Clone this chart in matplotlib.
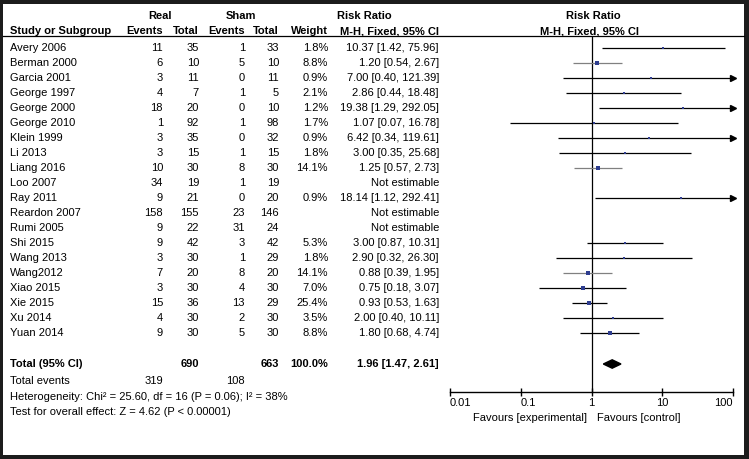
import numpy as np
import matplotlib
matplotlib.use('Agg')
import matplotlib.pyplot as plt
from matplotlib.patches import Rectangle, Polygon

plt.rcParams['font.family'] = ['Liberation Sans', 'DejaVu Sans']
FS = 8

# --- data ---
studies = ['Avery 2006', 'Berman 2000', 'Garcia 2001', 'George 1997', 'George 2000',
           'George 2010', 'Klein 1999', 'Li 2013', 'Liang 2016', 'Loo 2007', 'Ray 2011',
           'Reardon 2007', 'Rumi 2005', 'Shi 2015', 'Wang 2013', 'Wang2012', 'Xiao 2015',
           'Xie 2015', 'Xu 2014', 'Yuan 2014']
real_events = [11, 6, 3, 4, 18, 1, 3, 3, 10, 34, 9, 158, 9, 9, 3, 7, 3, 15, 4, 9]
real_total = [35, 10, 11, 7, 20, 92, 35, 15, 30, 19, 21, 155, 22, 42, 30, 20, 30, 36, 30, 30]
sham_events = [1, 5, 0, 1, 0, 1, 0, 1, 8, 1, 0, 23, 31, 3, 1, 8, 4, 13, 2, 5]
sham_total = [33, 10, 11, 5, 10, 98, 32, 15, 30, 19, 20, 146, 24, 42, 29, 20, 30, 29, 30, 30]
weights = [1.8, 8.8, 0.9, 2.1, 1.2, 1.7, 0.9, 1.8, 14.1, None, 0.9, None, None,
           5.3, 1.8, 14.1, 7.0, 25.4, 3.5, 8.8]
rr = [10.37, 1.20, 7.00, 2.86, 19.38, 1.07, 6.42, 3.00, 1.25, None, 18.14, None, None,
      3.00, 2.90, 0.88, 0.75, 0.93, 2.00, 1.80]
ci_lo = [1.42, 0.54, 0.40, 0.44, 1.29, 0.07, 0.34, 0.35, 0.57, None, 1.12, None, None,
         0.87, 0.32, 0.39, 0.18, 0.53, 0.40, 0.68]
ci_hi = [75.96, 2.67, 121.39, 18.48, 292.05, 16.78, 119.61, 25.68, 2.73, None, 292.41, None, None,
         10.31, 26.30, 1.95, 3.07, 1.63, 10.11, 4.74]
grey_rows = ['Berman 2000', 'Liang 2016', 'Wang2012']

total_rr, total_lo, total_hi = 1.96, 1.47, 2.61
total_n_real, total_n_sham = 690, 663
total_ev_real, total_ev_sham = 319, 108
het_text = 'Heterogeneity: Chi² = 25.60, df = 16 (P = 0.06); I² = 38%'
test_text = 'Test for overall effect: Z = 4.62 (P < 0.00001)'
ticks = [0.01, 0.1, 1, 10, 100]
tick_labels = ['0.01', '0.1', '1', '10', '100']

# --- figure: rows are 15 px apart, first row at 48 px ---
W, H = 749, 459
fig = plt.figure(figsize=(W / 100, H / 100), dpi=100)
fig.patch.set_facecolor('#1c1c1c')
fig.patches.append(Rectangle((3 / W, 4 / H), 741 / W, 451 / H, transform=fig.transFigure,
                             facecolor='white', edgecolor='none', zorder=-5))

def row_of(pix):
    return (pix - 48) / 15.0

tab = fig.add_axes([0, 0, 1, 1])
tab.set_xlim(0, W)
tab.set_ylim(row_of(H), row_of(0))
tab.axis('off')
tab.patch.set_alpha(0)

# header
r1, r2 = row_of(16), row_of(31)
tab.text(160, r1, 'Real', ha='center', va='center', fontsize=FS, weight='bold')
tab.text(241, r1, 'Sham', ha='center', va='center', fontsize=FS, weight='bold')
tab.text(337, r1, 'Risk Ratio', ha='left', va='center', fontsize=FS, weight='bold')
tab.text(593, r1, 'Risk Ratio', ha='center', va='center', fontsize=FS, weight='bold')
tab.text(10, r2, 'Study or Subgroup', ha='left', va='center', fontsize=FS, weight='bold')
for x, s in [(163, 'Events'), (199, 'Total'), (245, 'Events'), (279, 'Total'), (328, 'Weight'),
             (439, 'M-H, Fixed, 95% CI')]:
    tab.text(x, r2, s, ha='right', va='center', fontsize=FS, weight='bold')
tab.text(589, r2, 'M-H, Fixed, 95% CI', ha='center', va='center', fontsize=FS, weight='bold')
tab.plot([3, 744], [row_of(36), row_of(36)], color='black', lw=0.9)

# study rows
for i, name in enumerate(studies):
    tab.text(10, i, name, ha='left', va='center', fontsize=FS)
    tab.text(163, i, str(real_events[i]), ha='right', va='center', fontsize=FS)
    tab.text(199, i, str(real_total[i]), ha='right', va='center', fontsize=FS)
    tab.text(245, i, str(sham_events[i]), ha='right', va='center', fontsize=FS)
    tab.text(279, i, str(sham_total[i]), ha='right', va='center', fontsize=FS)
    if weights[i] is None:
        tab.text(439, i, 'Not estimable', ha='right', va='center', fontsize=FS)
    else:
        tab.text(328, i, f'{weights[i]:.1f}%', ha='right', va='center', fontsize=FS)
        tab.text(439, i, f'{rr[i]:.2f} [{ci_lo[i]:.2f}, {ci_hi[i]:.2f}]',
                 ha='right', va='center', fontsize=FS)

# totals
rt = row_of(364)
tab.text(10, rt, 'Total (95% CI)', ha='left', va='center', fontsize=FS, weight='bold')
tab.text(199, rt, str(total_n_real), ha='right', va='center', fontsize=FS, weight='bold')
tab.text(279, rt, str(total_n_sham), ha='right', va='center', fontsize=FS, weight='bold')
tab.text(328, rt, '100.0%', ha='right', va='center', fontsize=FS, weight='bold')
tab.text(439, rt, f'{total_rr:.2f} [{total_lo:.2f}, {total_hi:.2f}]',
         ha='right', va='center', fontsize=FS, weight='bold')
re_ = row_of(381)
tab.text(10, re_, 'Total events', ha='left', va='center', fontsize=FS)
tab.text(163, re_, str(total_ev_real), ha='right', va='center', fontsize=FS)
tab.text(245, re_, str(total_ev_sham), ha='right', va='center', fontsize=FS)
tab.text(10, row_of(397), het_text, ha='left', va='center', fontsize=FS)
tab.text(10, row_of(412), test_text, ha='left', va='center', fontsize=FS)
tab.text(587, row_of(418), 'Favours [experimental]', ha='right', va='center', fontsize=FS)
tab.text(597, row_of(418), 'Favours [control]', ha='left', va='center', fontsize=FS)

# --- forest panel ---
top_pix, bot_pix = 36, 392
ax = fig.add_axes([450 / W, (H - bot_pix) / H, 283 / W, (bot_pix - top_pix) / H])
ax.patch.set_alpha(0)
ax.set_xscale('log')
ax.set_xlim(0.01, 100)
ax.set_ylim(row_of(bot_pix), row_of(top_pix))
for sp in ['top', 'left', 'right']:
    ax.spines[sp].set_visible(False)
ax.spines['bottom'].set_linewidth(1)
ax.set_yticks([])
ax.set_xticks(ticks)
ax.set_xticklabels(tick_labels, fontsize=FS)
for lab, ha in zip(ax.get_xticklabels(), ['left', 'left', 'center', 'center', 'right']):
    lab.set_horizontalalignment(ha)
ax.minorticks_off()
ax.tick_params(axis='x', direction='inout', length=6, width=1, pad=1)
ax.axvline(1, color='black', lw=0.9)

for i in range(len(studies)):
    if rr[i] is None:
        continue
    col = '#808080' if studies[i] in grey_rows else 'black'
    hi = min(ci_hi[i], 100)
    ax.plot([ci_lo[i], hi], [i, i], color=col, lw=0.9, solid_capstyle='butt')
    if ci_hi[i] > 100:
        ax.plot([100], [i], marker='>', color='black', markersize=4, clip_on=False)
    ax.plot([rr[i]], [i], marker='s', color='#2e3d8f', markeredgewidth=0,
            markersize=1.2 + 0.4 * np.sqrt(weights[i]))

ax.add_patch(Polygon([(total_lo, rt), (total_rr, rt - 0.28), (total_hi, rt), (total_rr, rt + 0.28)],
                     closed=True, facecolor='black', edgecolor='black'))

fig.savefig('out.png', dpi=100, facecolor=fig.get_facecolor())
